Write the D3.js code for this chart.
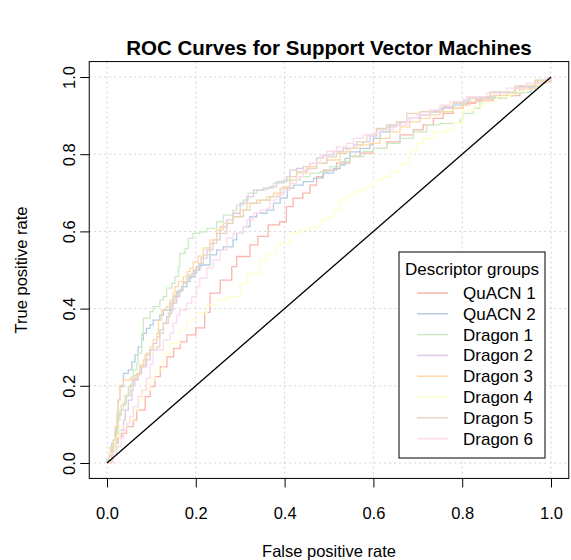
<!DOCTYPE html>
<meta charset="utf-8">
<style>
body { margin: 0; background: #fff; }
text { font-family: "Liberation Sans", Arial, Helvetica, sans-serif; fill: #000; }
.grid line { stroke: #d3d3d3; stroke-dasharray: 2,3; }
.roc { fill: none; stroke-width: 1.3px; }
.axis path { display: none; }
.axis line { stroke: #000; }
</style>
<body>
<script src="https://d3js.org/d3.v7.min.js"></script>
<script>

// ROC points [false positive rate, true positive rate]
var quacn1 = [[0,0],[0.01,0.03],[0.018,0.052],[0.025,0.067],[0.033,0.077],[0.044,0.094],[0.059,0.111],[0.067,0.137],[0.086,0.172],[0.097,0.198],[0.108,0.224],[0.12,0.249],[0.135,0.275],[0.15,0.297],[0.165,0.314],[0.18,0.332],[0.2,0.35],[0.22,0.39],[0.232,0.44],[0.255,0.474],[0.281,0.509],[0.292,0.535],[0.322,0.565],[0.34,0.587],[0.363,0.617],[0.389,0.625],[0.404,0.664],[0.419,0.686],[0.441,0.699],[0.457,0.72],[0.472,0.742],[0.487,0.759],[0.517,0.777],[0.547,0.794],[0.57,0.803],[0.6,0.815],[0.63,0.832],[0.66,0.85],[0.69,0.863],[0.712,0.876],[0.735,0.893],[0.757,0.906],[0.78,0.919],[0.802,0.932],[0.83,0.94],[0.87,0.952],[0.93,0.975],[0.97,0.99],[1,1]];

var quacn2 = [[0,0],[0,0.008],[0.007,0.025],[0.011,0.051],[0.018,0.077],[0.022,0.111],[0.025,0.163],[0.029,0.198],[0.037,0.232],[0.048,0.241],[0.056,0.262],[0.063,0.28],[0.07,0.301],[0.078,0.319],[0.082,0.336],[0.089,0.349],[0.097,0.358],[0.104,0.37],[0.119,0.383],[0.127,0.396],[0.142,0.414],[0.149,0.431],[0.157,0.444],[0.168,0.457],[0.18,0.47],[0.187,0.483],[0.198,0.5],[0.209,0.513],[0.232,0.539],[0.247,0.552],[0.262,0.56],[0.284,0.578],[0.292,0.595],[0.307,0.612],[0.322,0.638],[0.337,0.647],[0.36,0.655],[0.375,0.673],[0.39,0.686],[0.405,0.69],[0.406,0.712],[0.42,0.72],[0.442,0.729],[0.465,0.738],[0.487,0.751],[0.51,0.763],[0.525,0.772],[0.536,0.789],[0.547,0.806],[0.57,0.815],[0.592,0.824],[0.6,0.841],[0.615,0.858],[0.637,0.876],[0.66,0.884],[0.675,0.893],[0.705,0.902],[0.727,0.91],[0.757,0.919],[0.78,0.927],[0.81,0.936],[0.84,0.948],[0.885,0.961],[0.955,0.977],[0.975,0.992],[1,1]];

var dragon1 = [[0,0],[0.003,0.008],[0.011,0.034],[0.022,0.077],[0.025,0.111],[0.029,0.137],[0.037,0.155],[0.044,0.172],[0.048,0.198],[0.056,0.224],[0.059,0.241],[0.067,0.258],[0.07,0.284],[0.078,0.336],[0.082,0.375],[0.097,0.392],[0.104,0.405],[0.119,0.422],[0.127,0.431],[0.134,0.453],[0.146,0.466],[0.153,0.483],[0.161,0.509],[0.164,0.543],[0.176,0.556],[0.183,0.582],[0.194,0.595],[0.209,0.599],[0.225,0.608],[0.247,0.625],[0.262,0.642],[0.284,0.655],[0.292,0.668],[0.307,0.681],[0.318,0.699],[0.337,0.707],[0.36,0.712],[0.375,0.725],[0.397,0.733],[0.435,0.742],[0.457,0.751],[0.48,0.755],[0.502,0.768],[0.525,0.781],[0.547,0.794],[0.577,0.807],[0.6,0.815],[0.63,0.828],[0.66,0.841],[0.69,0.858],[0.72,0.876],[0.75,0.88],[0.795,0.889],[0.802,0.906],[0.825,0.919],[0.84,0.936],[0.863,0.945],[0.9,0.958],[0.938,0.975],[0.975,0.992],[1,1]];

var dragon2 = [[0,0],[0.003,0.003],[0.011,0.042],[0.018,0.068],[0.029,0.085],[0.037,0.111],[0.041,0.137],[0.048,0.163],[0.056,0.189],[0.059,0.215],[0.07,0.232],[0.078,0.249],[0.089,0.267],[0.097,0.293],[0.104,0.31],[0.112,0.327],[0.119,0.345],[0.127,0.362],[0.134,0.379],[0.142,0.396],[0.149,0.414],[0.157,0.431],[0.164,0.448],[0.172,0.466],[0.18,0.479],[0.191,0.491],[0.202,0.509],[0.212,0.531],[0.225,0.552],[0.239,0.578],[0.255,0.612],[0.27,0.63],[0.284,0.647],[0.3,0.673],[0.315,0.69],[0.33,0.707],[0.352,0.712],[0.367,0.716],[0.382,0.729],[0.405,0.742],[0.412,0.759],[0.427,0.763],[0.442,0.768],[0.457,0.776],[0.472,0.79],[0.487,0.798],[0.51,0.807],[0.532,0.815],[0.555,0.824],[0.577,0.832],[0.592,0.847],[0.607,0.865],[0.63,0.871],[0.652,0.884],[0.682,0.893],[0.705,0.902],[0.727,0.91],[0.75,0.919],[0.78,0.932],[0.802,0.94],[0.818,0.949],[0.863,0.961],[0.919,0.974],[0.964,0.99],[1,1]];

var dragon3 = [[0,0],[0.007,0.042],[0.014,0.051],[0.018,0.094],[0.022,0.129],[0.025,0.163],[0.029,0.202],[0.037,0.215],[0.052,0.219],[0.067,0.232],[0.074,0.249],[0.082,0.267],[0.089,0.284],[0.097,0.301],[0.104,0.319],[0.112,0.336],[0.116,0.37],[0.123,0.396],[0.134,0.405],[0.142,0.422],[0.149,0.44],[0.153,0.457],[0.161,0.47],[0.172,0.483],[0.18,0.496],[0.187,0.505],[0.194,0.521],[0.205,0.536],[0.217,0.557],[0.232,0.578],[0.247,0.604],[0.262,0.621],[0.284,0.638],[0.3,0.655],[0.315,0.673],[0.337,0.681],[0.36,0.69],[0.375,0.699],[0.397,0.716],[0.412,0.733],[0.427,0.751],[0.45,0.768],[0.472,0.776],[0.495,0.785],[0.525,0.806],[0.547,0.815],[0.57,0.824],[0.592,0.828],[0.615,0.841],[0.637,0.858],[0.66,0.871],[0.682,0.884],[0.705,0.893],[0.727,0.902],[0.75,0.91],[0.78,0.919],[0.802,0.927],[0.818,0.936],[0.863,0.951],[0.919,0.969],[0.964,0.987],[1,1]];

var dragon4 = [[0,0],[0.007,0.025],[0.018,0.068],[0.029,0.094],[0.044,0.111],[0.059,0.137],[0.07,0.163],[0.081,0.189],[0.097,0.215],[0.108,0.241],[0.127,0.284],[0.142,0.31],[0.164,0.345],[0.18,0.37],[0.202,0.388],[0.225,0.409],[0.247,0.422],[0.27,0.431],[0.3,0.466],[0.315,0.491],[0.345,0.526],[0.36,0.543],[0.382,0.569],[0.412,0.595],[0.435,0.604],[0.457,0.612],[0.48,0.63],[0.498,0.638],[0.51,0.655],[0.525,0.681],[0.54,0.694],[0.562,0.707],[0.585,0.716],[0.6,0.733],[0.622,0.742],[0.637,0.755],[0.66,0.775],[0.682,0.806],[0.698,0.828],[0.712,0.841],[0.735,0.858],[0.765,0.863],[0.78,0.88],[0.802,0.914],[0.825,0.923],[0.848,0.936],[0.878,0.949],[0.908,0.962],[0.945,0.979],[0.975,0.992],[1,1]];

var dragon5 = [[0,0],[0.005,0.021],[0.014,0.06],[0.02,0.091],[0.025,0.124],[0.032,0.15],[0.041,0.176],[0.052,0.202],[0.063,0.228],[0.074,0.254],[0.086,0.28],[0.097,0.293],[0.112,0.301],[0.119,0.336],[0.127,0.362],[0.138,0.388],[0.146,0.414],[0.153,0.435],[0.161,0.448],[0.172,0.47],[0.183,0.487],[0.194,0.5],[0.206,0.517],[0.217,0.539],[0.232,0.569],[0.247,0.595],[0.27,0.621],[0.284,0.638],[0.307,0.655],[0.322,0.673],[0.345,0.681],[0.367,0.69],[0.39,0.712],[0.412,0.742],[0.427,0.755],[0.45,0.763],[0.472,0.777],[0.495,0.793],[0.517,0.802],[0.54,0.815],[0.562,0.832],[0.585,0.85],[0.607,0.867],[0.63,0.876],[0.652,0.884],[0.675,0.906],[0.705,0.91],[0.735,0.915],[0.757,0.923],[0.78,0.932],[0.81,0.945],[0.863,0.961],[0.919,0.977],[0.964,0.992],[1,1]];

var dragon6 = [[0,0],[0.003,0.001],[0.014,0.025],[0.022,0.042],[0.032,0.065],[0.038,0.085],[0.045,0.104],[0.052,0.12],[0.059,0.146],[0.07,0.172],[0.078,0.189],[0.089,0.22],[0.097,0.256],[0.104,0.293],[0.127,0.319],[0.142,0.336],[0.149,0.362],[0.157,0.383],[0.164,0.396],[0.18,0.414],[0.191,0.431],[0.202,0.457],[0.209,0.479],[0.225,0.505],[0.239,0.526],[0.255,0.552],[0.27,0.583],[0.284,0.595],[0.307,0.612],[0.315,0.63],[0.33,0.647],[0.345,0.655],[0.36,0.66],[0.367,0.681],[0.382,0.694],[0.397,0.707],[0.412,0.725],[0.427,0.742],[0.442,0.759],[0.457,0.776],[0.48,0.795],[0.495,0.807],[0.517,0.819],[0.54,0.828],[0.555,0.841],[0.577,0.85],[0.6,0.854],[0.615,0.863],[0.645,0.876],[0.675,0.893],[0.698,0.902],[0.727,0.915],[0.75,0.927],[0.773,0.936],[0.81,0.949],[0.855,0.958],[0.9,0.971],[0.945,0.984],[0.99,0.997],[1,1]];

var seriesNames = ["QuACN 1", "QuACN 2", "Dragon 1", "Dragon 2", "Dragon 3", "Dragon 4", "Dragon 5", "Dragon 6"];
var seriesData = [quacn1, quacn2, dragon1, dragon2, dragon3, dragon4, dragon5, dragon6];
// RColorBrewer Pastel1
var colors = ["#fbb4ae", "#b3cde3", "#ccebc5", "#decbe4", "#fed9a6", "#ffffcc", "#e5d8bd", "#fddaec"];
var tickValues = [0, 0.2, 0.4, 0.6, 0.8, 1.0];

var width = 571, height = 560;

// plot region: [0,1] spans these pixels, box is 4% wider on each side like R
var x = d3.scaleLinear().domain([0, 1]).range([107, 551]);
var y = d3.scaleLinear().domain([0, 1]).range([463, 77]);
var boxL = x(-0.04), boxR = x(1.04), boxT = y(1.04), boxB = y(-0.04);

var svg = d3.select("body").append("svg")
    .attr("width", width)
    .attr("height", height);

svg.append("rect").attr("width", width).attr("height", height).attr("fill", "#fff");

// dotted grid
var grid = svg.append("g").attr("class", "grid");
grid.selectAll(".gx").data(tickValues).enter().append("line")
    .attr("x1", function(d) { return x(d); }).attr("x2", function(d) { return x(d); })
    .attr("y1", boxT).attr("y2", boxB);
grid.selectAll(".gy").data(tickValues).enter().append("line")
    .attr("y1", function(d) { return y(d); }).attr("y2", function(d) { return y(d); })
    .attr("x1", boxL).attr("x2", boxR);

// roc curves
var line = d3.line()
    .x(function(d) { return x(d[0]); })
    .y(function(d) { return y(d[1]); })
    .curve(d3.curveStepAfter);

svg.selectAll(".roc")
    .data(seriesData)
  .enter().append("path")
    .attr("class", "roc")
    .attr("stroke", function(d, i) { return colors[i]; })
    .attr("d", line);

// chance line
svg.append("line")
    .attr("x1", x(0)).attr("y1", y(0))
    .attr("x2", x(1)).attr("y2", y(1))
    .attr("stroke", "#000").attr("stroke-width", 1.3);

// box
svg.append("rect")
    .attr("x", boxL).attr("y", boxT)
    .attr("width", boxR - boxL).attr("height", boxB - boxT)
    .attr("fill", "none").attr("stroke", "#000").attr("stroke-width", 1);

// axes
var xAxis = svg.append("g")
    .attr("class", "axis")
    .attr("transform", "translate(0," + boxB + ")")
    .call(d3.axisBottom(x).tickValues(tickValues).tickFormat(d3.format(".1f")).tickSize(9).tickSizeOuter(0));
xAxis.selectAll("text")
    .attr("y", 41).attr("dy", 0)
    .style("font-size", "16.5px");

var yAxis = svg.append("g")
    .attr("class", "axis")
    .attr("transform", "translate(" + boxL + ",0)")
    .call(d3.axisLeft(y).tickValues(tickValues).tickFormat(d3.format(".1f")).tickSize(9).tickSizeOuter(0));
yAxis.selectAll("text")
    .attr("x", 0).attr("dy", 0)
    .attr("text-anchor", "middle")
    .attr("transform", "translate(-14,0) rotate(-90)")
    .style("font-size", "16.5px");

// titles
svg.append("text")
    .attr("x", (boxL + boxR) / 2).attr("y", 55)
    .attr("text-anchor", "middle")
    .style("font-size", "20.5px").style("font-weight", "bold")
    .text("ROC Curves for Support Vector Machines");

svg.append("text")
    .attr("x", (boxL + boxR) / 2).attr("y", 557)
    .attr("text-anchor", "middle")
    .style("font-size", "16.5px")
    .text("False positive rate");

svg.append("text")
    .attr("transform", "translate(27," + (boxT + boxB) / 2 + ") rotate(-90)")
    .attr("text-anchor", "middle")
    .style("font-size", "16.5px")
    .text("True positive rate");

// legend
var legend = svg.append("g").attr("transform", "translate(399,252)");
legend.append("rect")
    .attr("width", 146).attr("height", 206)
    .attr("fill", "#fff").attr("stroke", "#000");
legend.append("text")
    .attr("x", 73).attr("y", 23)
    .attr("text-anchor", "middle")
    .style("font-size", "17px")
    .text("Descriptor groups");

var item = legend.selectAll(".item")
    .data(seriesNames)
  .enter().append("g")
    .attr("transform", function(d, i) { return "translate(0," + (47 + i * 20.8) + ")"; });
item.append("line")
    .attr("x1", 18).attr("x2", 49)
    .attr("y1", -6).attr("y2", -6)
    .attr("stroke", function(d, i) { return colors[i]; })
    .attr("stroke-width", 1.5);
item.append("text")
    .attr("x", 64)
    .style("font-size", "17px")
    .text(function(d) { return d; });

</script>
</body>
